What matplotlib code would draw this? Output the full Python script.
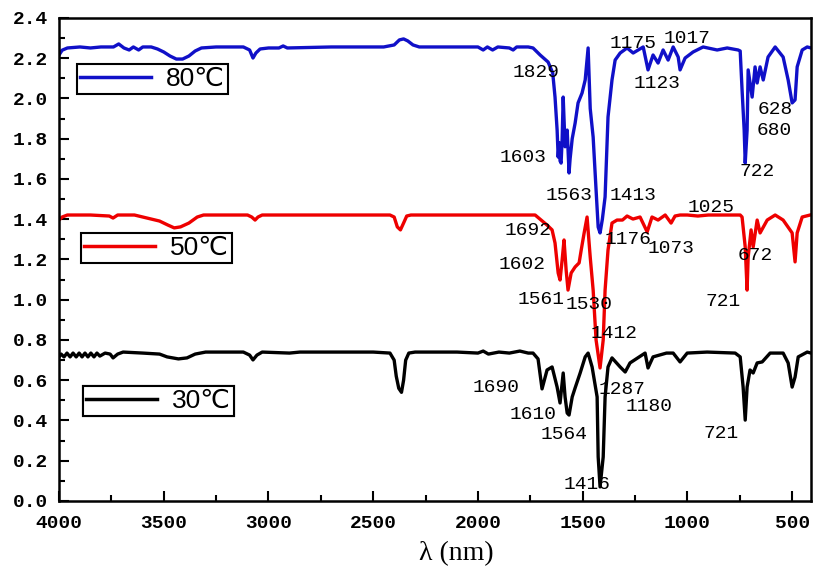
import numpy as np
import matplotlib
matplotlib.use("Agg")
import matplotlib.pyplot as plt
from matplotlib.ticker import MultipleLocator, FormatStrFormatter
from matplotlib.lines import Line2D

# --- data (wavenumber, signal) ---
wn_80 = [4000, 3985, 3960, 3900, 3850, 3800, 3740, 3715, 3690, 3665, 3645, 3620, 3600,
         3560, 3530, 3500, 3470, 3440, 3410, 3380, 3350, 3320, 3250, 3120, 3090, 3074,
         3060, 3040, 3000, 2950, 2930, 2910, 2700, 2450, 2400, 2375, 2355, 2335, 2310,
         2280, 2000, 1975, 1955, 1930, 1905, 1850, 1832, 1815, 1760, 1737, 1703, 1665,
         1643, 1632, 1622, 1617, 1612, 1608, 1603, 1598, 1593, 1584, 1574, 1565, 1560,
         1550, 1536, 1522, 1503, 1488, 1474, 1464, 1450, 1436, 1426, 1417, 1406, 1393,
         1379, 1360, 1345, 1321, 1288, 1259, 1211, 1188, 1164, 1140, 1116, 1092, 1068,
         1044, 1035, 1011, 973, 925, 858, 810, 758, 748, 739, 729, 724, 715, 710, 691,
         677, 667, 653, 638, 615, 581, 543, 519, 500, 486, 476, 452, 428, 410]
ir_80 = [2.216, 2.240, 2.251, 2.256, 2.251, 2.256, 2.256, 2.271, 2.251, 2.241, 2.256, 2.241, 2.256,
         2.256, 2.246, 2.231, 2.211, 2.196, 2.196, 2.211, 2.236, 2.251, 2.256, 2.256, 2.241, 2.201,
         2.226, 2.246, 2.251, 2.251, 2.261, 2.251, 2.256, 2.256, 2.266, 2.291, 2.296, 2.286, 2.266,
         2.256, 2.256, 2.241, 2.256, 2.241, 2.256, 2.251, 2.241, 2.256, 2.256, 2.251, 2.216, 2.181,
         2.127, 2.007, 1.843, 1.709, 1.780, 1.690, 1.679, 1.800, 2.007, 1.760, 1.843, 1.630, 1.700,
         1.800, 1.878, 1.978, 2.027, 2.092, 2.251, 1.950, 1.808, 1.545, 1.361, 1.332, 1.400, 1.511,
         1.908, 2.092, 2.191, 2.226, 2.251, 2.226, 2.256, 2.142, 2.216, 2.176, 2.241, 2.191, 2.256,
         2.206, 2.142, 2.201, 2.231, 2.256, 2.241, 2.251, 2.241, 2.236, 2.042, 1.843, 1.679, 1.843, 2.142, 2.007,
         2.157, 2.077, 2.157, 2.092, 2.206, 2.256, 2.206, 2.092, 1.978, 1.993, 2.157, 2.241, 2.256, 2.251]

wn_50 = [4000, 3985, 3960, 3850, 3760, 3742, 3720, 3640, 3600, 3560, 3520, 3480, 3450,
         3420, 3380, 3340, 3310, 3100, 3080, 3064, 3050, 3030, 2420, 2400, 2385, 2370,
         2355, 2340, 2320, 1760, 1727, 1670, 1646, 1632, 1617, 1608, 1598, 1589, 1579,
         1570, 1555, 1536, 1517, 1507, 1493, 1479, 1464, 1450, 1436, 1417, 1402, 1393,
         1379, 1360, 1336, 1310, 1288, 1260, 1226, 1192, 1169, 1140, 1106, 1078, 1059,
         1035, 1000, 950, 900, 748, 739, 724, 715, 710, 696, 686, 667, 653, 619, 581,
         543, 500, 486, 476, 452, 414]
ir_50 = [1.396, 1.411, 1.421, 1.421, 1.416, 1.406, 1.421, 1.421, 1.411, 1.401, 1.391, 1.371, 1.357,
         1.362, 1.381, 1.411, 1.421, 1.421, 1.411, 1.396, 1.411, 1.421, 1.421, 1.411, 1.362, 1.347,
         1.381, 1.416, 1.421, 1.421, 1.421, 1.371, 1.347, 1.282, 1.133, 1.098, 1.198, 1.297, 1.148,
         1.048, 1.133, 1.163, 1.183, 1.247, 1.332, 1.411, 1.212, 1.048, 0.800, 0.661, 0.800, 1.048,
         1.247, 1.381, 1.396, 1.396, 1.416, 1.401, 1.411, 1.337, 1.411, 1.396, 1.421, 1.381, 1.416,
         1.421, 1.421, 1.416, 1.421, 1.421, 1.411, 1.262, 1.048, 1.212, 1.347, 1.262, 1.396, 1.332, 1.396, 1.421,
         1.396, 1.332, 1.188, 1.332, 1.411, 1.421]

wn_30 = [4000, 3990, 3976, 3962, 3947, 3933, 3918, 3904, 3890, 3876, 3862, 3848, 3833,
         3819, 3805, 3780, 3756, 3742, 3720, 3694, 3600, 3520, 3484, 3430, 3389, 3350,
         3300, 3120, 3090, 3074, 3055, 3030, 2900, 2850, 2500, 2420, 2400, 2390, 2378,
         2365, 2355, 2345, 2330, 2300, 2100, 2000, 1975, 1950, 1900, 1850, 1800, 1760,
         1737, 1713, 1694, 1670, 1646, 1622, 1608, 1593, 1584, 1574, 1565, 1550, 1536,
         1512, 1488, 1474, 1455, 1431, 1426, 1417, 1402, 1393, 1379, 1360, 1321, 1297,
         1274, 1230, 1202, 1188, 1164, 1100, 1068, 1035, 1001, 906, 772, 748, 734, 724,
         715, 701, 686, 667, 643, 605, 543, 519, 500, 486, 471, 428, 410]
ir_30 = [0.716, 0.730, 0.716, 0.735, 0.716, 0.735, 0.716, 0.735, 0.716, 0.735, 0.716, 0.735, 0.716,
         0.735, 0.720, 0.735, 0.730, 0.711, 0.730, 0.740, 0.735, 0.730, 0.716, 0.706, 0.711, 0.730,
         0.740, 0.740, 0.725, 0.701, 0.725, 0.740, 0.735, 0.740, 0.740, 0.735, 0.700, 0.620, 0.560,
         0.540, 0.600, 0.700, 0.735, 0.740, 0.740, 0.735, 0.745, 0.730, 0.740, 0.735, 0.745, 0.735,
         0.735, 0.706, 0.557, 0.651, 0.666, 0.566, 0.487, 0.636, 0.517, 0.437, 0.427, 0.517, 0.562,
         0.636, 0.716, 0.735, 0.666, 0.517, 0.219, 0.070, 0.219, 0.517, 0.666, 0.711, 0.666, 0.641,
         0.686, 0.716, 0.735, 0.661, 0.716, 0.735, 0.735, 0.691, 0.735, 0.740, 0.735, 0.716, 0.566, 0.402,
         0.566, 0.651, 0.636, 0.686, 0.691, 0.735, 0.735, 0.686, 0.566, 0.616, 0.716, 0.740, 0.735]

# peak labels: (text, wavenumber, y)
peaks_80 = [("1829", 1722, 2.127), ("1603", 1784, 1.709), ("1563", 1565, 1.516),
            ("1413", 1259, 1.516), ("1175", 1259, 2.271), ("1017", 1001, 2.296),
            ("1123", 1145, 2.072), ("628", 581, 1.943), ("680", 586, 1.843), ("722", 667, 1.635)]
peaks_50 = [("1692", 1761, 1.342), ("1602", 1789, 1.173), ("1561", 1698, 0.999),
            ("1530", 1469, 0.974), ("1412", 1350, 0.830), ("1176", 1283, 1.297),
            ("1073", 1078, 1.257), ("1025", 887, 1.456), ("672", 677, 1.222), ("721", 829, 0.989)]
peaks_30 = [("1690", 1913, 0.566), ("1610", 1737, 0.432), ("1564", 1589, 0.328),
            ("1287", 1312, 0.552), ("1180", 1183, 0.472), ("721", 839, 0.333), ("1416", 1479, 0.080)]

series = [
    ("80℃", wn_80, ir_80, "#1010c8", peaks_80, (0.024, 0.905)),
    ("50℃", wn_50, ir_50, "#ee0000", peaks_50, (0.029, 0.555)),
    ("30℃", wn_30, ir_30, "black", peaks_30, (0.032, 0.238)),
]

fig = plt.figure(figsize=(8.14, 5.71), dpi=100)
ax = fig.add_axes([0.0725, 0.1226, 0.9238, 0.8459])

legend_font = {"family": ["Liberation Sans", "DejaVu Sans"], "size": 19}
for name, x, y, col, peaks, anchor in series:
    ax.plot(x, y, color=col, lw=2.4)
    for txt, px, py in peaks:
        ax.text(px, py, txt, ha="center", va="center", fontsize=14,
                family="Liberation Mono", color="black")
    h = Line2D([], [], color=col, lw=2.5)
    leg = ax.legend([h], [name], loc="upper left", bbox_to_anchor=anchor,
                    borderaxespad=0, prop=legend_font, fancybox=False,
                    framealpha=1, edgecolor="black", handlelength=2.7,
                    handletextpad=0.55, borderpad=0.12)
    leg.get_frame().set_linewidth(1.5)
    ax.add_artist(leg)

ax.set_xlim(4000, 410)
ax.set_ylim(0, 2.4)
ax.xaxis.set_major_locator(MultipleLocator(500))
ax.xaxis.set_minor_locator(MultipleLocator(250))
ax.yaxis.set_major_locator(MultipleLocator(0.2))
ax.yaxis.set_minor_locator(MultipleLocator(0.1))
ax.yaxis.set_major_formatter(FormatStrFormatter("%.1f"))
ax.tick_params(which="both", direction="in", width=1.5)
ax.tick_params(which="major", length=7)
ax.tick_params(which="minor", length=4)
ax.tick_params(axis="x", pad=10)
ax.tick_params(axis="y", pad=8)
for lab in ax.get_xticklabels() + ax.get_yticklabels():
    lab.set_family("Liberation Mono")
    lab.set_fontweight("bold")
    lab.set_fontsize(14)
for sp in ax.spines.values():
    sp.set_linewidth(1.8)

ax.set_xlabel("λ (nm)", fontsize=20, family="Liberation Serif")
ax.xaxis.set_label_coords(0.529, -0.083)

fig.savefig("out.png", dpi=100)
